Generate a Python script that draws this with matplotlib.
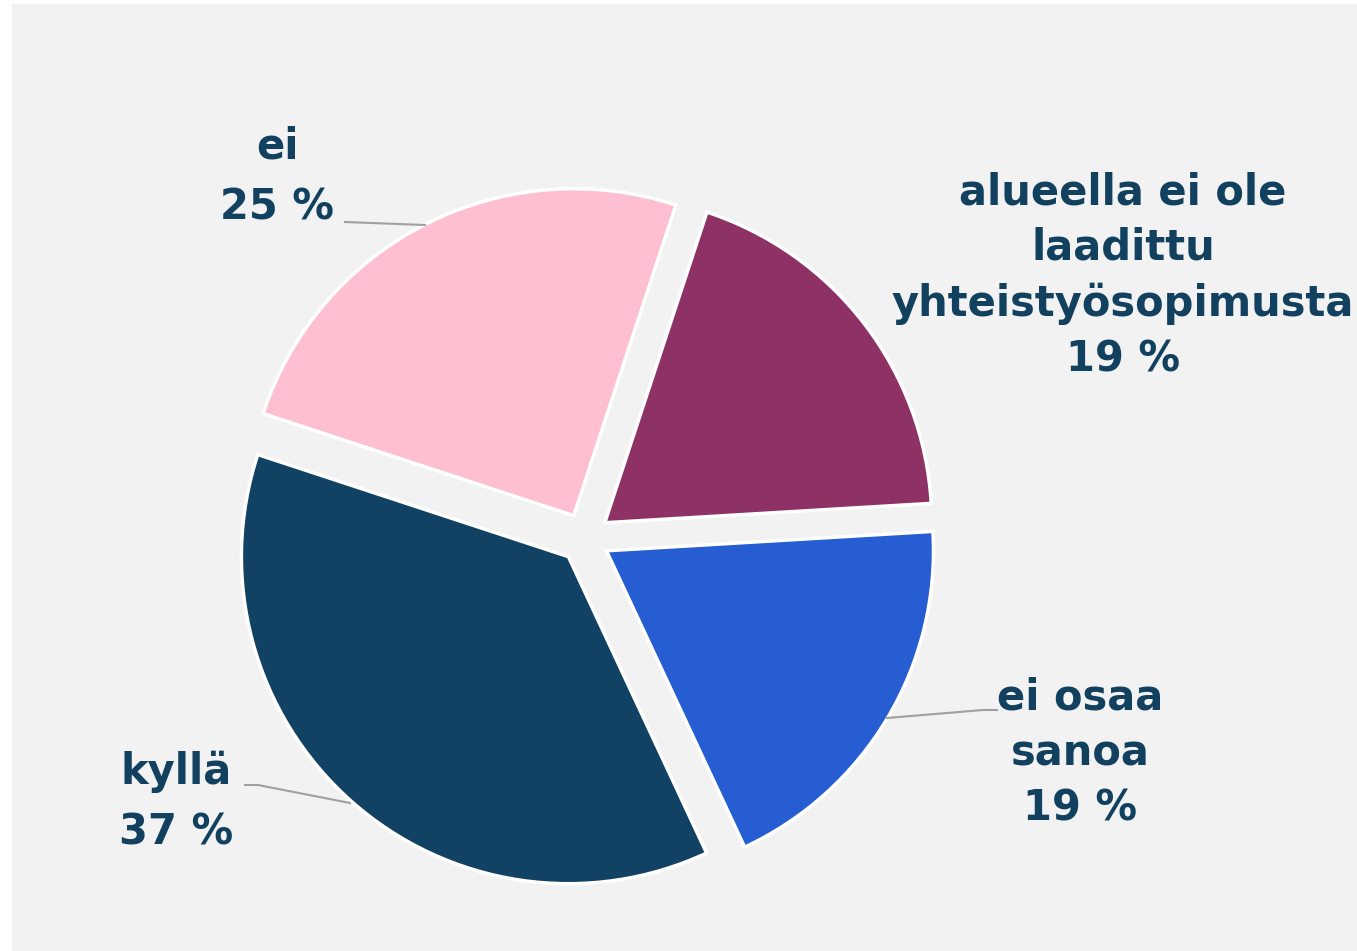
import matplotlib
matplotlib.use("Agg")
import matplotlib.pyplot as plt

labels = ['alueella ei ole\nlaadittu\nyhteistyösopimusta', 'ei', 'kyllä', 'ei osaa\nsanoa']
shares = [19, 25, 37, 19]
colors = ['#8e3265', '#fec0d0', '#114163', '#265dd2']

TEXT = '#12405f'
W, H = 1357, 951

fig = plt.figure(figsize=(W / 100, H / 100), dpi=100, facecolor='white')
ax = fig.add_axes([0, 0, 1, 1])

# light grey panel, white strip on the left and top
ax.add_patch(plt.Rectangle((12, 0), W - 12, H - 4, color='#f2f2f2', zorder=0))

cx, cy, r = 585, H - 538, 327
wedges, _ = ax.pie(shares, colors=colors, startangle=3.4, counterclock=True,
                   center=(cx, cy), radius=r, explode=[25] * len(shares),
                   wedgeprops=dict(edgecolor='white', linewidth=2.5),
                   frame=True)
ax.set_xlim(0, W)
ax.set_ylim(0, H)
ax.set_aspect('equal')
ax.axis('off')

# label anchors (pixel coords from top), line spacing and leader lines
label_pos = [(1123, 276), (277, 177), (176, 802), (1080, 753)]
spacing = [1.41, 1.57, 1.57, 1.41]
leaders = [None,
           [(345, 222), (425, 225)],
           [(245, 785), (258, 785), (350, 803)],
           [(887, 718), (983, 710), (997, 710)]]

for lab, val, (x, y), ls, ln in zip(labels, shares, label_pos, spacing, leaders):
    ax.text(x, H - y, f'{lab}\n{val} %', ha='center', va='center',
            fontsize=30, fontweight='bold', family='DejaVu Sans', color=TEXT,
            linespacing=ls, zorder=5)
    if ln:
        ax.plot([p[0] for p in ln], [H - p[1] for p in ln],
                color='#a0a0a0', lw=1.5, zorder=4)

fig.savefig('out.png', dpi=100, facecolor='white')
